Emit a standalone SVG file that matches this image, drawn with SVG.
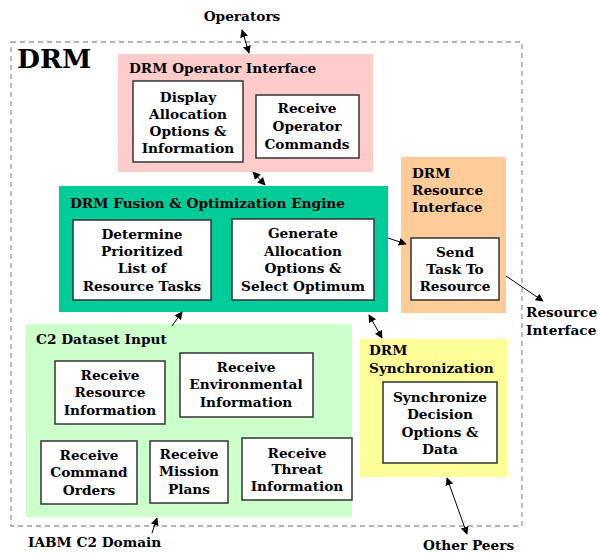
<svg xmlns="http://www.w3.org/2000/svg" width="598" height="553" viewBox="0 0 598 553">
<defs>
<marker id="ah" viewBox="0 0 10 10" refX="9" refY="5" markerWidth="8" markerHeight="8" markerUnits="userSpaceOnUse" orient="auto-start-reverse">
<path d="M0,0 L10,5 L0,10 z" fill="#000"/>
</marker>
<style>
text{font-family:"DejaVu Serif","Liberation Serif",serif;font-weight:bold;font-size:13.7px;fill:#000}
.c{text-anchor:middle}
.box{fill:#fff;stroke:#333;stroke-width:1.5}
.ln{stroke:#000;stroke-width:1;fill:none}
.one{marker-end:url(#ah)}
.two{marker-start:url(#ah);marker-end:url(#ah)}
</style>
</defs>
<rect width="598" height="553" fill="#fff"/>
<rect x="11" y="42" width="511" height="484" fill="none" stroke="#999" stroke-width="1.3" stroke-dasharray="5,4"/>
<text x="17" y="68" style="font-size:26.5px">DRM</text>

<g id="operator-interface">
<rect x="118" y="54" width="255" height="118" fill="#ffcccc"/>
<text x="129" y="73">DRM Operator Interface</text>
</g>
<g id="display-allocation">
<rect class="box" x="133" y="81" width="110" height="81"/>
<text class="c" x="188" y="102">Display</text>
<text class="c" x="188" y="119">Allocation</text>
<text class="c" x="188" y="136">Options &amp;</text>
<text class="c" x="188" y="153">Information</text>
</g>
<g id="receive-operator-commands">
<rect class="box" x="256" y="95" width="103" height="63"/>
<text class="c" x="307" y="113">Receive</text>
<text class="c" x="307" y="131">Operator</text>
<text class="c" x="307" y="149">Commands</text>
</g>

<g id="fusion-engine">
<rect x="59" y="186" width="329" height="126" fill="#00cc99"/>
<text x="70" y="208">DRM Fusion &amp; Optimization Engine</text>
</g>
<g id="determine-tasks">
<rect class="box" x="73" y="220" width="138" height="80"/>
<text class="c" x="142" y="239">Determine</text>
<text class="c" x="142" y="256">Prioritized</text>
<text class="c" x="142" y="273">List of</text>
<text class="c" x="142" y="291">Resource Tasks</text>
</g>
<g id="generate-allocation">
<rect class="box" x="232" y="219" width="142" height="81"/>
<text class="c" x="303" y="238">Generate</text>
<text class="c" x="303" y="256">Allocation</text>
<text class="c" x="303" y="273">Options &amp;</text>
<text class="c" x="303" y="291">Select Optimum</text>
</g>

<g id="resource-interface">
<rect x="401" y="157" width="105" height="156" fill="#ffcc99"/>
<text x="412" y="178">DRM</text>
<text x="412" y="195">Resource</text>
<text x="412" y="212">Interface</text>
</g>
<g id="send-task">
<rect class="box" x="411" y="238" width="88" height="62"/>
<text class="c" x="455" y="257">Send</text>
<text class="c" x="455" y="274">Task To</text>
<text class="c" x="455" y="291">Resource</text>
</g>

<g id="c2-dataset-input">
<rect x="26" y="324" width="326" height="193" fill="#ccffcc"/>
<text x="36" y="344">C2 Dataset Input</text>
</g>
<g id="receive-resource">
<rect class="box" x="55" y="361" width="110" height="63"/>
<text class="c" x="110" y="380">Receive</text>
<text class="c" x="110" y="397">Resource</text>
<text class="c" x="110" y="415">Information</text>
</g>
<g id="receive-environmental">
<rect class="box" x="180" y="353" width="133" height="64"/>
<text class="c" x="246" y="372">Receive</text>
<text class="c" x="246" y="389">Environmental</text>
<text class="c" x="246" y="407">Information</text>
</g>
<g id="receive-command">
<rect class="box" x="41" y="441" width="96" height="63"/>
<text class="c" x="89" y="460">Receive</text>
<text class="c" x="89" y="477">Command</text>
<text class="c" x="89" y="495">Orders</text>
</g>
<g id="receive-mission">
<rect class="box" x="150" y="441" width="78" height="62"/>
<text class="c" x="189" y="459">Receive</text>
<text class="c" x="189" y="476">Mission</text>
<text class="c" x="189" y="494">Plans</text>
</g>
<g id="receive-threat">
<rect class="box" x="242" y="438" width="110" height="62"/>
<text class="c" x="297" y="458">Receive</text>
<text class="c" x="297" y="474">Threat</text>
<text class="c" x="297" y="491">Information</text>
</g>

<g id="synchronization">
<rect x="360" y="339" width="147" height="138" fill="#ffff99"/>
<text x="369" y="355">DRM</text>
<text x="369" y="373">Synchronization</text>
</g>
<g id="synchronize-decision">
<rect class="box" x="383" y="382" width="114" height="81"/>
<text class="c" x="440" y="402">Synchronize</text>
<text class="c" x="440" y="419">Decision</text>
<text class="c" x="440" y="437">Options &amp;</text>
<text class="c" x="440" y="454">Data</text>
</g>

<g id="labels">
<text class="c" x="242" y="21">Operators</text>
<text x="526" y="317">Resource</text>
<text x="526" y="335">Interface</text>
<text x="28" y="547">IABM C2 Domain</text>
<text x="423" y="550">Other Peers</text>
</g>

<g id="connectors">
<line class="ln two" x1="242" y1="30" x2="249" y2="53"/>
<line class="ln two" x1="253" y1="172" x2="265" y2="185"/>
<line class="ln one" x1="388" y1="238" x2="406" y2="244"/>
<line class="ln one" x1="506" y1="276" x2="543" y2="301"/>
<line class="ln two" x1="369" y1="315" x2="382" y2="338"/>
<line class="ln one" x1="172" y1="326" x2="182" y2="312"/>
<line class="ln one" x1="152" y1="533" x2="157" y2="518"/>
<line class="ln two" x1="447" y1="478" x2="467" y2="534"/>
</g>
</svg>
